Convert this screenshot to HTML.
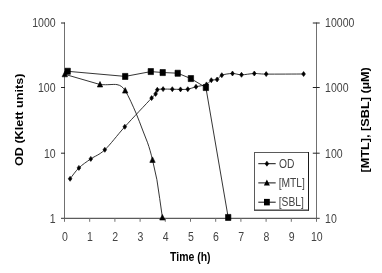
<!DOCTYPE html>
<html><head><meta charset="utf-8"><title>chart</title>
<style>html,body{margin:0;padding:0;background:#fff}body{width:382px;height:273px;overflow:hidden}</style></head>
<body>
<svg width="382" height="273" viewBox="0 0 382 273" style="display:block;filter:grayscale(1);font-family:'Liberation Sans',sans-serif">
<rect width="382" height="273" fill="#fff"/>
<g stroke-width="1" fill="none">
<path stroke="#707070" d="M64.5 22.5V218.8M316.5 22.5V218.8"/>
<path stroke="#333" d="M61.0 218.3H319.7"/>
<path stroke="#222" d="M61.0 23.0H65.0"/>
<path stroke="#222" d="M312.8 23.0H319.7"/>
<path stroke="#222" d="M61.0 87.5H65.0"/>
<path stroke="#222" d="M312.8 87.5H319.7"/>
<path stroke="#222" d="M61.0 153.2H65.0"/>
<path stroke="#222" d="M312.8 153.2H319.7"/>
<path stroke="#707070" d="M64.5 218.3V221.8"/>
<path stroke="#707070" d="M89.7 218.3V221.8"/>
<path stroke="#707070" d="M114.9 218.3V221.8"/>
<path stroke="#707070" d="M140.1 218.3V221.8"/>
<path stroke="#707070" d="M165.3 218.3V221.8"/>
<path stroke="#707070" d="M190.5 218.3V221.8"/>
<path stroke="#707070" d="M215.7 218.3V221.8"/>
<path stroke="#707070" d="M240.9 218.3V221.8"/>
<path stroke="#707070" d="M266.1 218.3V221.8"/>
<path stroke="#707070" d="M291.3 218.3V221.8"/>
<path stroke="#707070" d="M316.5 218.3V221.8"/>
</g>
<g stroke="#111" stroke-width="0.85" fill="none" stroke-linejoin="round">
<path d="M70.10 178.80 C71.57 176.98 75.45 171.22 78.90 167.90 C82.35 164.58 86.48 161.92 90.80 158.90 C95.12 155.88 99.13 155.15 104.80 149.80 C110.47 144.45 117.00 135.42 124.80 126.80 C132.60 118.18 146.47 103.58 151.60 98.10 C156.73 92.62 154.65 95.28 155.60 93.90 C156.55 92.52 156.05 90.60 157.30 89.80 C158.55 89.00 160.60 89.20 163.10 89.10 C165.60 89.00 169.40 89.15 172.30 89.20 C175.20 89.25 177.92 89.40 180.50 89.40 C183.08 89.40 185.22 89.63 187.80 89.20 C190.38 88.77 192.88 87.60 196.00 86.80 C199.12 86.00 203.95 85.50 206.50 84.40 C209.05 83.30 209.53 81.02 211.30 80.20 C213.07 79.38 215.35 80.33 217.10 79.50 C218.85 78.67 219.23 76.20 221.80 75.20 C224.37 74.20 229.22 73.57 232.50 73.50 C235.78 73.43 237.87 74.80 241.50 74.80 C245.13 74.80 250.18 73.62 254.30 73.50 C258.42 73.38 257.98 74.02 266.20 74.10 C274.42 74.18 297.37 74.02 303.60 74.00"/>
<path d="M67.7 71.3 L125.2 76.4 L150.8 71.6 L162.7 72.5 L177.7 73.2 L190.9 78.6 L205.9 87.6 L228.2 217.5"/>
<path d="M64.8 74.3 L100 84.5 C108 85.2 113 84 117 84.6 C121 85.3 123 87.5 125.2 90.6 C129 97 132.5 105 136.2 113.5 C138.5 119 140.5 124.5 142.6 130 C144.3 134.3 146 138.5 147.6 142.8 C149.3 147.5 151 153.5 152.5 159.9 C154 166.5 155.5 173 156.9 179.7 C158.8 192 160.6 205 162.4 217.5"/>
</g>
<g fill="#000" stroke="#000" stroke-width="0.6" stroke-linejoin="round">
<path d="M70.1 176.3l1.85 2.5l-1.85 2.5l-1.85 -2.5z"/>
<path d="M78.9 165.4l1.85 2.5l-1.85 2.5l-1.85 -2.5z"/>
<path d="M90.8 156.4l1.85 2.5l-1.85 2.5l-1.85 -2.5z"/>
<path d="M104.8 147.3l1.85 2.5l-1.85 2.5l-1.85 -2.5z"/>
<path d="M124.8 124.3l1.85 2.5l-1.85 2.5l-1.85 -2.5z"/>
<path d="M151.6 95.6l1.85 2.5l-1.85 2.5l-1.85 -2.5z"/>
<path d="M155.6 91.4l1.85 2.5l-1.85 2.5l-1.85 -2.5z"/>
<path d="M157.3 87.3l1.85 2.5l-1.85 2.5l-1.85 -2.5z"/>
<path d="M163.1 86.6l1.85 2.5l-1.85 2.5l-1.85 -2.5z"/>
<path d="M172.3 86.7l1.85 2.5l-1.85 2.5l-1.85 -2.5z"/>
<path d="M180.5 86.9l1.85 2.5l-1.85 2.5l-1.85 -2.5z"/>
<path d="M187.8 86.7l1.85 2.5l-1.85 2.5l-1.85 -2.5z"/>
<path d="M196.0 84.3l1.85 2.5l-1.85 2.5l-1.85 -2.5z"/>
<path d="M206.5 81.9l1.85 2.5l-1.85 2.5l-1.85 -2.5z"/>
<path d="M211.3 77.7l1.85 2.5l-1.85 2.5l-1.85 -2.5z"/>
<path d="M217.1 77.0l1.85 2.5l-1.85 2.5l-1.85 -2.5z"/>
<path d="M221.8 72.7l1.85 2.5l-1.85 2.5l-1.85 -2.5z"/>
<path d="M232.5 71.0l1.85 2.5l-1.85 2.5l-1.85 -2.5z"/>
<path d="M241.5 72.3l1.85 2.5l-1.85 2.5l-1.85 -2.5z"/>
<path d="M254.3 71.0l1.85 2.5l-1.85 2.5l-1.85 -2.5z"/>
<path d="M266.2 71.6l1.85 2.5l-1.85 2.5l-1.85 -2.5z"/>
<path d="M303.6 71.5l1.85 2.5l-1.85 2.5l-1.85 -2.5z"/>
<path d="M64.8 71.3l2.7 5.5h-5.4z"/>
<path d="M100.0 81.5l2.7 5.5h-5.4z"/>
<path d="M125.2 87.6l2.7 5.5h-5.4z"/>
<path d="M152.5 156.9l2.7 5.5h-5.4z"/>
<path d="M162.4 214.5l2.7 5.5h-5.4z"/>
<rect x="65.0" y="68.2" width="5.4" height="6.1"/>
<rect x="122.5" y="73.4" width="5.4" height="6.1"/>
<rect x="148.1" y="68.5" width="5.4" height="6.1"/>
<rect x="160.0" y="69.5" width="5.4" height="6.1"/>
<rect x="175.0" y="70.2" width="5.4" height="6.1"/>
<rect x="188.2" y="75.5" width="5.4" height="6.1"/>
<rect x="203.2" y="84.5" width="5.4" height="6.1"/>
<rect x="225.5" y="214.4" width="5.4" height="6.1"/>
</g>
<text transform="translate(55.6 27.3) scale(0.775 1)" text-anchor="end" font-size="13.6" font-weight="normal" fill="#444">1000</text>
<text transform="translate(55.6 91.8) scale(0.775 1)" text-anchor="end" font-size="13.6" font-weight="normal" fill="#444">100</text>
<text transform="translate(55.6 157.5) scale(0.775 1)" text-anchor="end" font-size="13.6" font-weight="normal" fill="#444">10</text>
<text transform="translate(55.6 222.6) scale(0.775 1)" text-anchor="end" font-size="13.6" font-weight="normal" fill="#444">1</text>
<text transform="translate(325.1 27.3) scale(0.775 1)" text-anchor="start" font-size="13.6" font-weight="normal" fill="#444">10000</text>
<text transform="translate(325.1 91.8) scale(0.775 1)" text-anchor="start" font-size="13.6" font-weight="normal" fill="#444">1000</text>
<text transform="translate(325.1 157.5) scale(0.775 1)" text-anchor="start" font-size="13.6" font-weight="normal" fill="#444">100</text>
<text transform="translate(325.1 222.6) scale(0.775 1)" text-anchor="start" font-size="13.6" font-weight="normal" fill="#444">10</text>
<text transform="translate(64.8 241.2) scale(0.775 1)" text-anchor="middle" font-size="13.6" font-weight="normal" fill="#444">0</text>
<text transform="translate(90.0 241.2) scale(0.775 1)" text-anchor="middle" font-size="13.6" font-weight="normal" fill="#444">1</text>
<text transform="translate(115.2 241.2) scale(0.775 1)" text-anchor="middle" font-size="13.6" font-weight="normal" fill="#444">2</text>
<text transform="translate(140.4 241.2) scale(0.775 1)" text-anchor="middle" font-size="13.6" font-weight="normal" fill="#444">3</text>
<text transform="translate(165.6 241.2) scale(0.775 1)" text-anchor="middle" font-size="13.6" font-weight="normal" fill="#444">4</text>
<text transform="translate(190.8 241.2) scale(0.775 1)" text-anchor="middle" font-size="13.6" font-weight="normal" fill="#444">5</text>
<text transform="translate(216.0 241.2) scale(0.775 1)" text-anchor="middle" font-size="13.6" font-weight="normal" fill="#444">6</text>
<text transform="translate(241.2 241.2) scale(0.775 1)" text-anchor="middle" font-size="13.6" font-weight="normal" fill="#444">7</text>
<text transform="translate(266.4 241.2) scale(0.775 1)" text-anchor="middle" font-size="13.6" font-weight="normal" fill="#444">8</text>
<text transform="translate(291.6 241.2) scale(0.775 1)" text-anchor="middle" font-size="13.6" font-weight="normal" fill="#444">9</text>
<text transform="translate(316.8 241.2) scale(0.775 1)" text-anchor="middle" font-size="13.6" font-weight="normal" fill="#444">10</text>
<text transform="translate(190.3 261.4) scale(0.840 1)" text-anchor="middle" font-size="12.5" font-weight="bold" fill="#000">Time (h)</text>
<text transform="translate(22.9 166.0) scale(0.820 1) rotate(-90)" text-anchor="start" font-size="12.6" font-weight="bold" fill="#000">OD (Klett units)</text>
<text transform="translate(368.9 172.5) scale(0.820 1) rotate(-90)" text-anchor="start" font-size="12.7" font-weight="bold" fill="#000">[MTL], [SBL] (µM)</text>
<rect x="254.5" y="152.5" width="54" height="57.7" fill="#fff" stroke="#5a5a5a" stroke-width="1"/>
<path d="M308.5 152V210.7" stroke="#1a1a1a" stroke-width="1" fill="none"/>
<path d="M254 210.2H309" stroke="#3a3a3a" stroke-width="1" fill="none"/>
<g stroke="#111" stroke-width="1">
<path d="M258.3 163.7H275.7"/>
<path d="M258.3 182.9H275.7"/>
<path d="M258.3 202.2H275.7"/>
</g>
<g fill="#000">
<path d="M266.9 161.2l1.85 2.5l-1.85 2.5l-1.85 -2.5z" stroke="#000" stroke-width="0.6" stroke-linejoin="round"/>
<path d="M266.9 179.5l3.0 6.0h-6.0z"/>
<rect x="264.0" y="198.9" width="5.8" height="6.5"/>
</g>
<text transform="translate(279.0 167.5) scale(0.790 1)" text-anchor="start" font-size="13.0" font-weight="normal" fill="#444">OD</text>
<text transform="translate(278.7 186.5) scale(0.790 1)" text-anchor="start" font-size="13.0" font-weight="normal" fill="#444">[MTL]</text>
<text transform="translate(278.7 206.1) scale(0.790 1)" text-anchor="start" font-size="13.0" font-weight="normal" fill="#444">[SBL]</text>
</svg>
</body></html>
